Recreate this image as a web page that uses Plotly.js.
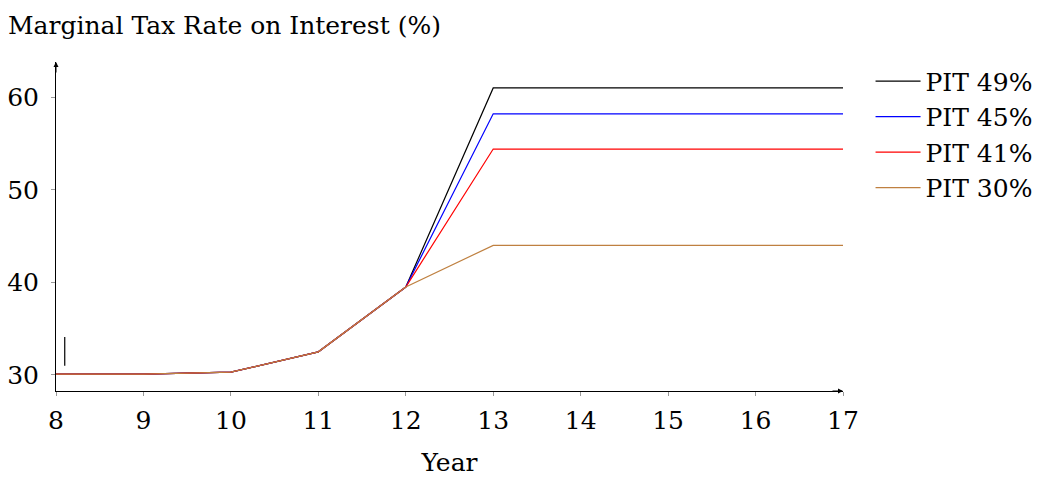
<!DOCTYPE html>
<html>
<head>
<meta charset="utf-8">
<script src="https://cdn.plot.ly/plotly-3.0.1.min.js"></script>
<style>html,body{margin:0;padding:0;background:#fff;}#chart{width:1039px;height:477px;}</style>
</head>
<body>
<div id="chart"></div>
<script>
const years = [8, 9, 10, 11, 12, 13, 14, 15, 16, 17];
const pit49 = [30.1, 30.1, 30.3, 32.5, 39.5, 61.0, 61.0, 61.0, 61.0, 61.0];
const pit45 = [30.1, 30.1, 30.3, 32.5, 39.5, 58.2, 58.2, 58.2, 58.2, 58.2];
const pit41 = [30.1, 30.1, 30.3, 32.5, 39.5, 54.4, 54.4, 54.4, 54.4, 54.4];
const pit30 = [30.1, 30.1, 30.3, 32.5, 39.5, 44.0, 44.0, 44.0, 44.0, 44.0];
const seriesNames = ["PIT 49%", "PIT 45%", "PIT 41%", "PIT 30%"];
const markX = [8.1, 8.1];
const markY = [31.0, 34.1];

const colors = ["#000000", "#0000ff", "#ff0000", "#bf8040"];
const font = "DejaVu Serif, serif";
const fs = 25;
const seriesData = [pit49, pit45, pit41, pit30];

const traces = seriesData.map((ys, i) => ({
  x: years, y: ys, type: "scatter", mode: "lines", name: seriesNames[i],
  line: {color: colors[i], width: 1.2}
}));
traces.push({x: markX, y: markY, type: "scatter", mode: "lines", showlegend: false,
  line: {color: "#000000", width: 1.2}, hoverinfo: "skip"});

const xr = [8, 17], yr = [28.27, 63.8];
const layout = {
  width: 1039, height: 477,
  margin: {l: 56, r: 196, t: 62, b: 86, autoexpand: false},
  paper_bgcolor: "#fff", plot_bgcolor: "#fff",
  font: {family: font, size: fs, color: "#000"},
  title: {text: "Marginal Tax Rate on Interest (%)", xref: "container", yref: "container",
          x: 8/1039, xanchor: "left", y: 1 - 25/477, yanchor: "middle",
          font: {family: font, size: fs, color: "#000"}},
  xaxis: {range: xr, tickvals: years, ticktext: years.map(String), showgrid: false, zeroline: false,
          showline: true, linecolor: "#000", linewidth: 1, ticks: "outside", ticklen: 4, tickcolor: "#999",
          ticklabelstandoff: 3,
          title: {text: "Year", standoff: 22, font: {family: font, size: fs}}, tickfont: {family: font, size: fs}},
  yaxis: {range: yr, tickvals: [30, 40, 50, 60], showgrid: false, zeroline: false,
          showline: true, linecolor: "#000", linewidth: 1, ticks: "outside", ticklen: 4, tickcolor: "#999",
          ticklabelstandoff: 7,
          tickfont: {family: font, size: fs}},
  legend: {x: 1.035, y: 1.011, xanchor: "left", yanchor: "top", bgcolor: "rgba(0,0,0,0)",
           font: {family: font, size: fs}, tracegroupgap: 0, itemwidth: 45},
  annotations: [
    {x: xr[1], y: yr[0], ax: -12, ay: 0, xref: "x", yref: "y", showarrow: true, text: "",
     arrowhead: 2, arrowsize: 1, arrowwidth: 1, arrowcolor: "#000"},
    {x: xr[0], y: yr[1], ax: 0, ay: 12, xref: "x", yref: "y", showarrow: true, text: "",
     arrowhead: 2, arrowsize: 1, arrowwidth: 1, arrowcolor: "#000"}
  ],
  showlegend: true
};
Plotly.newPlot("chart", traces, layout, {displayModeBar: false, staticPlot: true});
</script>
</body>
</html>
